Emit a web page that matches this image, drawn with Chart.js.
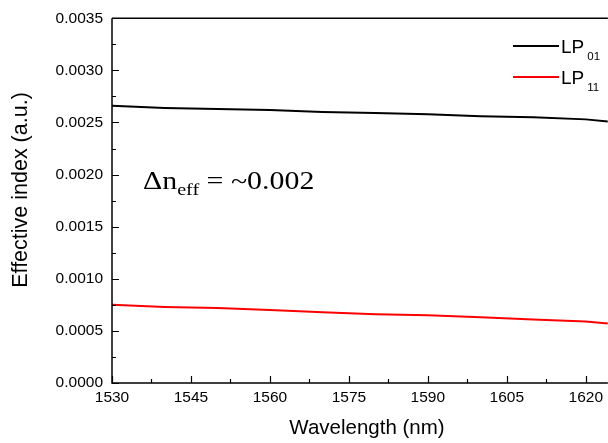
<!DOCTYPE html>
<html>
<head>
<meta charset="utf-8">
<script src="https://cdn.jsdelivr.net/npm/chart.js@4"></script>
<style>
  html, body { margin: 0; padding: 0; background: #fff; }
  #wrap { width: 608px; height: 443px; }
</style>
</head>
<body>
<div id="wrap"><canvas id="chart" width="608" height="443"></canvas></div>
<script>
// wavelength (nm)
var wavelengths = [1530, 1540, 1550, 1560, 1570, 1580, 1590, 1600, 1610, 1620, 1624.2];
// effective index of each mode
var lp01 = [0.00266, 0.00264, 0.00263, 0.00262, 0.00260, 0.00259, 0.00258, 0.00256, 0.00255, 0.00253, 0.00251];
var lp11 = [0.00075, 0.00073, 0.00072, 0.00070, 0.00068, 0.00066, 0.00065, 0.00063, 0.00061, 0.00059, 0.00057];

var xMajor = [1530, 1545, 1560, 1575, 1590, 1605, 1620];
var xMinor = [1537.5, 1552.5, 1567.5, 1582.5, 1597.5, 1612.5];
var yMajor = [0, 0.0005, 0.0010, 0.0015, 0.0020, 0.0025, 0.0030, 0.0035];
var yMinor = [0.00025, 0.00075, 0.00125, 0.00175, 0.00225, 0.00275, 0.00325];

var sansFont = '"Liberation Sans", Arial, sans-serif';
var serifFont = '"Liberation Serif", "Times New Roman", serif';

function toPoints(xs, ys) {
    return xs.map(function (x, i) { return { x: x, y: ys[i] }; });
}

// inward ticks, frame, axis titles, legend and annotation
var decorPlugin = {
    id: 'decor',
    afterDraw: function (chart) {
        var ctx = chart.ctx;
        var xs = chart.scales.x, ys = chart.scales.y;
        var area = chart.chartArea;
        ctx.save();
        ctx.strokeStyle = '#000';
        ctx.lineWidth = 1.5;

        // frame: left, bottom, top
        ctx.beginPath();
        ctx.moveTo(area.left, area.top);
        ctx.lineTo(area.left, area.bottom);
        ctx.lineTo(area.right, area.bottom);
        ctx.moveTo(area.left, area.top);
        ctx.lineTo(area.right, area.top);
        ctx.stroke();

        ctx.lineWidth = 1.2;
        ctx.beginPath();
        xMajor.forEach(function (v) {
            var px = Math.round(xs.getPixelForValue(v)) + 0.5;
            ctx.moveTo(px, area.bottom); ctx.lineTo(px, area.bottom - 7);
        });
        xMinor.forEach(function (v) {
            var px = Math.round(xs.getPixelForValue(v)) + 0.5;
            ctx.moveTo(px, area.bottom); ctx.lineTo(px, area.bottom - 4);
        });
        yMajor.forEach(function (v) {
            var py = Math.round(ys.getPixelForValue(v)) + 0.5;
            ctx.moveTo(area.left, py); ctx.lineTo(area.left + 7, py);
        });
        yMinor.forEach(function (v) {
            var py = Math.round(ys.getPixelForValue(v)) + 0.5;
            ctx.moveTo(area.left, py); ctx.lineTo(area.left + 4, py);
        });
        ctx.stroke();

        // axis titles
        ctx.fillStyle = '#000';
        ctx.textAlign = 'center';
        ctx.textBaseline = 'middle';
        ctx.font = '20.5px ' + sansFont;
        ctx.fillText('Wavelength (nm)', 367, 428);
        ctx.save();
        ctx.translate(21, 190);
        ctx.rotate(-Math.PI / 2);
        ctx.font = '21.5px ' + sansFont;
        ctx.fillText('Effective index (a.u.)', 0, 0);
        ctx.restore();

        // legend
        var items = [
            { color: '#000000', label: 'LP', sub: '01', y: 46 },
            { color: '#ff0000', label: 'LP', sub: '11', y: 77 }
        ];
        ctx.textBaseline = 'alphabetic';
        ctx.textAlign = 'left';
        items.forEach(function (it) {
            ctx.strokeStyle = it.color;
            ctx.lineWidth = 2;
            ctx.beginPath();
            ctx.moveTo(513, it.y); ctx.lineTo(559, it.y);
            ctx.stroke();
            ctx.fillStyle = '#000';
            ctx.font = '19px ' + sansFont;
            ctx.fillText(it.label, 561, it.y + 7);
            var w = ctx.measureText(it.label).width;
            ctx.font = '11.5px ' + sansFont;
            ctx.fillText(it.sub, 561 + w + 3, it.y + 14);
        });

        // annotation (the original text is drawn a little wide)
        ctx.save();
        ctx.translate(143, 189);
        ctx.scale(1.22, 1);
        ctx.fillStyle = '#000';
        ctx.font = '24.5px ' + serifFont;
        ctx.fillText('\u0394n', 0, 0);
        var w1 = ctx.measureText('\u0394n').width;
        ctx.font = '16.5px ' + serifFont;
        ctx.fillText('eff', w1, 6);
        var w2 = ctx.measureText('eff').width;
        ctx.font = '24.5px ' + serifFont;
        ctx.fillText(' = ~0.002', w1 + w2, 0);
        ctx.restore();
        ctx.restore();
    }
};

new Chart(document.getElementById('chart'), {
    type: 'line',
    data: {
        datasets: [
            { label: 'LP01', data: toPoints(wavelengths, lp01), borderColor: '#000000', borderWidth: 2, pointRadius: 0, tension: 0, fill: false },
            { label: 'LP11', data: toPoints(wavelengths, lp11), borderColor: '#ff0000', borderWidth: 2, pointRadius: 0, tension: 0, fill: false }
        ]
    },
    options: {
        responsive: false,
        animation: false,
        devicePixelRatio: 1,
        layout: { padding: { top: 16, right: 0, left: 0, bottom: 0 } },
        plugins: { legend: { display: false }, tooltip: { enabled: false } },
        scales: {
            x: {
                type: 'linear',
                min: 1530,
                max: 1624.2,
                afterBuildTicks: function (scale) {
                    scale.ticks = xMajor.map(function (v) { return { value: v }; });
                },
                afterFit: function (scale) { scale.height = 60; },
                grid: { display: false, drawTicks: false },
                border: { display: false },
                ticks: {
                    color: '#000',
                    padding: 5,
                    maxRotation: 0,
                    autoSkip: false,
                    font: { family: sansFont, size: 15.5 },
                    callback: function (v) { return String(v); }
                },
                title: { display: false }
            },
            y: {
                type: 'linear',
                min: 0,
                max: 0.0035,
                afterBuildTicks: function (scale) {
                    scale.ticks = yMajor.map(function (v) { return { value: v }; });
                },
                afterFit: function (scale) { scale.width = 112; },
                grid: { display: false, drawTicks: false },
                border: { display: false },
                ticks: {
                    color: '#000',
                    padding: 9,
                    font: { family: sansFont, size: 15.5 },
                    callback: function (v) { return v.toFixed(4); }
                },
                title: { display: false }
            }
        }
    },
    plugins: [decorPlugin]
});
</script>
</body>
</html>
